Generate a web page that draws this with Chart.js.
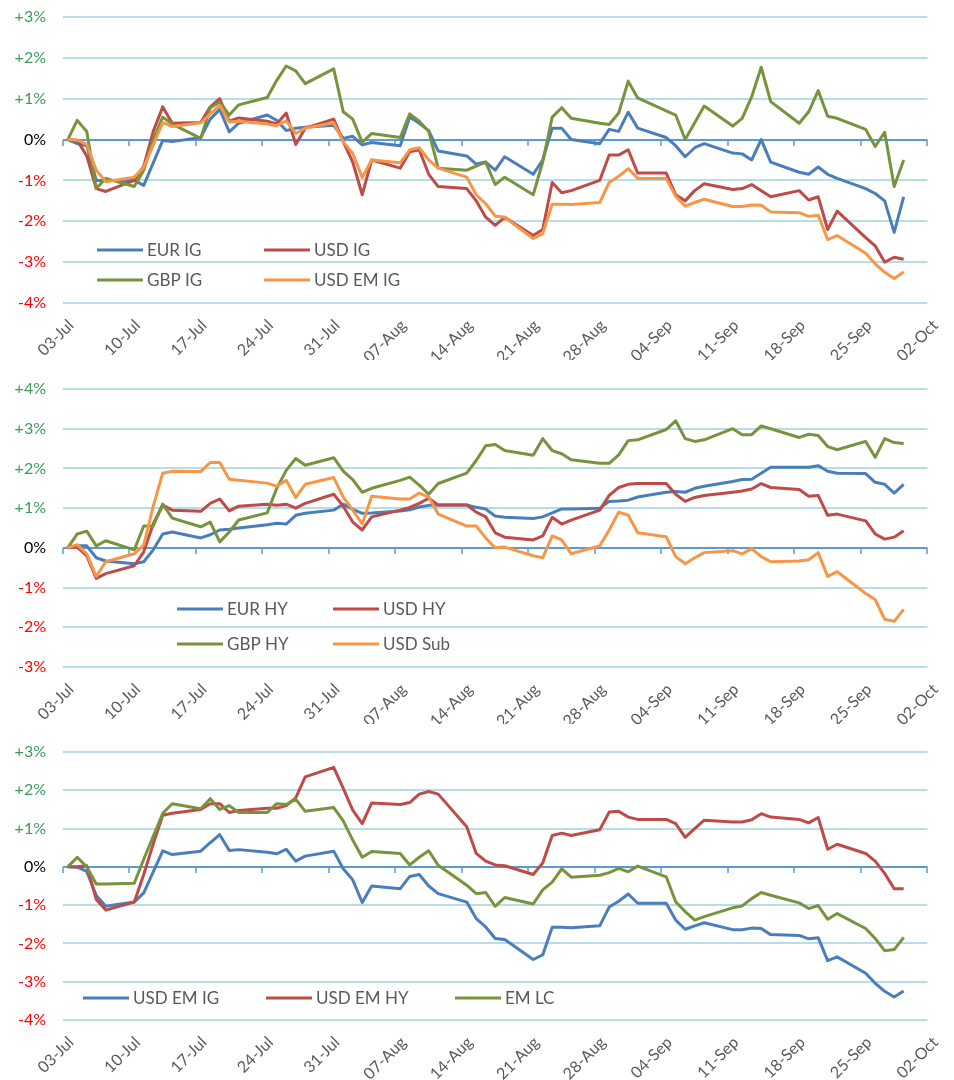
<!DOCTYPE html>
<html>
<head>
<meta charset="utf-8">
<script src="https://cdn.jsdelivr.net/npm/chart.js@4.4.1/dist/chart.umd.min.js"></script>
<style>
    html, body { margin: 0; padding: 0; background: #fff; }
    .panel { position: absolute; left: 0; width: 954px; }
</style>
</head>
<body>
<div class="panel" style="top:0px;height:360px"><canvas id="c1" width="954" height="360"></canvas></div>
<div class="panel" style="top:360px;height:364px"><canvas id="c2" width="954" height="364"></canvas></div>
<div class="panel" style="top:724px;height:356px"><canvas id="c3" width="954" height="356"></canvas></div>

<script>
/* ============================================================
   Performance depuis le 03-Jul (%), jours ouvrés
============================================================ */

// jours depuis le 03-Jul (lun-ven)
const DAYS = [
    0, 1, 2, 3, 4,      7, 8, 9, 10, 11,    14, 15, 16, 17, 18,
    21, 22, 23, 24, 25, 28, 29, 30, 31, 32, 35, 36, 37, 38, 39,
    42, 43, 44, 45, 46, 49, 50, 51, 52, 53, 56, 57, 58, 59, 60,
    63, 64, 65, 66, 67, 70, 71, 72, 73, 74, 77, 78, 79, 80, 81,
    84, 85, 86, 87, 88
];

const TICK_LABELS = [
    "03-Jul", "10-Jul", "17-Jul", "24-Jul", "31-Jul", "07-Aug", "14-Aug",
    "21-Aug", "28-Aug", "04-Sep", "11-Sep", "18-Sep", "25-Sep", "02-Oct"
];

/* --- IG --- */
const EUR_IG = [
    0, -0.1, -0.15, -1.0, -1.0,      -1.0, -1.12, -0.57, -0.02, -0.05,
    0.05, 0.5, 0.74, 0.19, 0.4,      0.6, 0.47, 0.22, 0.28, 0.3,
    0.35, 0.03, 0.08, -0.13, -0.07,  -0.15, 0.55, 0.4, 0.22, -0.28,
    -0.4, -0.6, -0.55, -0.75, -0.42, -0.85, -0.5, 0.28, 0.28, 0.0,
    -0.1, 0.25, 0.2, 0.67, 0.28,     0.05, -0.15, -0.42, -0.2, -0.1,
    -0.33, -0.35, -0.5, 0.0, -0.55,  -0.8, -0.85, -0.67, -0.85, -0.95,
    -1.2, -1.32, -1.5, -2.27, -1.4
];
const USD_IG = [
    0, -0.02, -0.4, -1.2, -1.27,     -1.0, -0.65, 0.2, 0.8, 0.4,
    0.42, 0.8, 1.0, 0.45, 0.53,      0.45, 0.38, 0.65, -0.12, 0.28,
    0.5, -0.05, -0.55, -1.35, -0.5,  -0.7, -0.3, -0.25, -0.85, -1.15,
    -1.2, -1.5, -1.9, -2.1, -1.9,    -2.35, -2.2, -1.05, -1.3, -1.25,
    -1.0, -0.38, -0.38, -0.25, -0.82, -0.82, -1.35, -1.5, -1.25, -1.08,
    -1.22, -1.2, -1.1, -1.25, -1.4,  -1.25, -1.48, -1.4, -2.2, -1.75,
    -2.4, -2.6, -3.0, -2.88, -2.93
];
const GBP_IG = [
    0, 0.47, 0.2, -1.2, -0.95,       -1.15, -0.75, 0.0, 0.55, 0.38,
    0.03, 0.78, 0.92, 0.6, 0.85,     1.03, 1.45, 1.8, 1.68, 1.37,
    1.73, 0.68, 0.5, -0.07, 0.15,    0.05, 0.63, 0.45, 0.2, -0.7,
    -0.75, -0.65, -0.55, -1.1, -0.92, -1.35, -0.55, 0.55, 0.78, 0.52,
    0.4, 0.37, 0.65, 1.43, 1.02,     0.7, 0.6, 0.0, 0.41, 0.82,
    0.33, 0.52, 1.05, 1.77, 0.93,    0.4, 0.68, 1.2, 0.57, 0.52,
    0.25, -0.17, 0.18, -1.15, -0.5
];
const USD_EM_IG = [
    0, -0.01, -0.12, -0.75, -1.03,   -0.92, -0.68, -0.13, 0.42, 0.32,
    0.41, 0.63, 0.84, 0.43, 0.45,    0.38, 0.34, 0.46, 0.15, 0.28,
    0.41, -0.05, -0.34, -0.93, -0.5, -0.57, -0.25, -0.2, -0.5, -0.7,
    -0.92, -1.35, -1.57, -1.87, -1.9, -2.42, -2.3, -1.58, -1.58, -1.59,
    -1.54, -1.05, -0.9, -0.71, -0.95, -0.95, -1.39, -1.63, -1.54, -1.46,
    -1.64, -1.64, -1.6, -1.61, -1.77, -1.79, -1.88, -1.85, -2.45, -2.35,
    -2.78, -3.04, -3.25, -3.4, -3.24
];

/* --- HY --- */
const EUR_HY = [
    0, 0.05, 0.05, -0.25, -0.33,     -0.4, -0.35, -0.05, 0.35, 0.4,
    0.25, 0.33, 0.45, 0.47, 0.5,     0.58, 0.62, 0.6, 0.82, 0.87,
    0.95, 1.1, 0.97, 0.87, 0.88,     0.93, 0.96, 1.03, 1.07, 1.08,
    1.08, 1.02, 0.98, 0.8, 0.77,     0.74, 0.78, 0.88, 0.98, 0.98,
    1.0, 1.17, 1.18, 1.2, 1.28,      1.4, 1.42, 1.4, 1.5, 1.55,
    1.67, 1.72, 1.73, 1.88, 2.03,    2.03, 2.03, 2.07, 1.93, 1.88,
    1.87, 1.65, 1.6, 1.38, 1.6
];
const USD_HY = [
    0, 0.02, -0.2, -0.77, -0.65,     -0.45, -0.1, 0.6, 1.08, 0.95,
    0.92, 1.12, 1.23, 0.93, 1.05,    1.1, 1.07, 1.1, 1.0, 1.12,
    1.35, 1.05, 0.65, 0.45, 0.78,    0.95, 1.02, 1.12, 1.25, 1.08,
    1.08, 0.9, 0.78, 0.38, 0.27,     0.2, 0.3, 0.77, 0.6, 0.7,
    0.95, 1.32, 1.52, 1.6, 1.62,     1.62, 1.35, 1.17, 1.27, 1.32,
    1.4, 1.43, 1.48, 1.62, 1.52,     1.47, 1.3, 1.32, 0.82, 0.85,
    0.68, 0.35, 0.22, 0.27, 0.43
];
const GBP_HY = [
    0, 0.35, 0.42, 0.05, 0.18,       -0.05, 0.55, 0.55, 1.1, 0.75,
    0.53, 0.65, 0.15, 0.4, 0.7,      0.88, 1.5, 1.95, 2.25, 2.08,
    2.27, 1.93, 1.72, 1.4, 1.5,      1.7, 1.78, 1.58, 1.35, 1.62,
    1.88, 2.2, 2.57, 2.6, 2.45,      2.33, 2.75, 2.45, 2.37, 2.22,
    2.13, 2.13, 2.34, 2.7, 2.72,     2.98, 3.2, 2.75, 2.68, 2.72,
    3.0, 2.85, 2.85, 3.07, 3.0,      2.78, 2.86, 2.83, 2.55, 2.47,
    2.68, 2.28, 2.75, 2.65, 2.63
];
const USD_SUB = [
    0, 0.08, -0.15, -0.72, -0.35,    -0.15, 0.07, 1.05, 1.88, 1.93,
    1.92, 2.15, 2.15, 1.73, 1.7,     1.63, 1.55, 1.7, 1.27, 1.6,
    1.77, 1.28, 0.95, 0.6, 1.3,      1.23, 1.23, 1.38, 1.28, 0.85,
    0.55, 0.55, 0.25, 0.0, 0.02,     -0.2, -0.25, 0.3, 0.2, -0.15,
    0.05, 0.45, 0.9, 0.82, 0.38,     0.28, -0.22, -0.4, -0.25, -0.12,
    -0.07, -0.15, -0.02, -0.22, -0.35, -0.33, -0.3, -0.12, -0.72, -0.6,
    -1.15, -1.3, -1.8, -1.85, -1.55
];

/* --- EM --- */
const USD_EM_HY = [
    0, 0, 0.03, -0.85, -1.13,        -0.92, -0.2, 0.6, 1.35, 1.4,
    1.5, 1.65, 1.65, 1.42, 1.47,     1.53, 1.53, 1.6, 1.8, 2.35,
    2.6, 2.05, 1.48, 1.13, 1.67,     1.63, 1.68, 1.9, 1.97, 1.9,
    1.05, 0.35, 0.15, 0.05, 0.03,    -0.2, 0.1, 0.82, 0.88, 0.82,
    0.97, 1.43, 1.45, 1.3, 1.24,     1.24, 1.13, 0.77, 1.0, 1.22,
    1.17, 1.17, 1.23, 1.39, 1.3,     1.24, 1.15, 1.29, 0.46, 0.59,
    0.35, 0.15, -0.17, -0.57, -0.57
];
const EM_LC = [
    0, 0.25, 0.0, -0.45, -0.45,      -0.43, 0.2, 0.8, 1.4, 1.65,
    1.52, 1.78, 1.5, 1.6, 1.42,      1.42, 1.65, 1.63, 1.77, 1.45,
    1.55, 1.2, 0.7, 0.25, 0.4,       0.35, 0.05, 0.25, 0.42, 0.04,
    -0.48, -0.7, -0.67, -1.03, -0.8, -0.97, -0.6, -0.4, -0.05, -0.27,
    -0.22, -0.15, -0.04, -0.13, 0.02, -0.26, -0.91, -1.17, -1.39, -1.3,
    -1.07, -1.02, -0.83, -0.67, -0.74, -0.94, -1.09, -1.01, -1.37, -1.22,
    -1.61, -1.87, -2.19, -2.16, -1.84
];

/* couleurs */
const BLUE = "#4A7EBB";
const RED = "#BE4B48";
const GREEN = "#77933C";
const ORANGE = "#F79646";
const GRID = "#B7DEE8";
const ZERO = "#5B9BD5";
const POS_TXT = "#3D9A5C";
const NEG_TXT = "#FF0000";
const TXT = "#595959";
const FONT = "Lato";

Chart.defaults.font.family = FONT;

/* axe zéro + petites graduations */
const zeroAxis = {
    id: "zeroAxis",
    beforeDatasetsDraw(chart) {
        const { ctx, chartArea, scales } = chart;
        const y0 = Math.round(scales.y.getPixelForValue(0));
        ctx.save();
        ctx.strokeStyle = ZERO;
        ctx.lineWidth = 2;
        ctx.beginPath();
        ctx.moveTo(chartArea.left, y0);
        ctx.lineTo(chartArea.right, y0);
        ctx.stroke();
        ctx.lineWidth = 1.5;
        ctx.beginPath();
        for (const t of scales.x.ticks) {
            const px = Math.round(scales.x.getPixelForValue(t.value));
            ctx.moveTo(px, y0);
            ctx.lineTo(px, y0 + 6);
        }
        ctx.stroke();
        ctx.restore();
    }
};

/* légende dans la zone du graphique */
const insideLegend = {
    id: "insideLegend",
    afterDatasetsDraw(chart, args, opts) {
        const ctx = chart.ctx;
        ctx.save();
        ctx.font = "17px " + FONT;
        ctx.textBaseline = "middle";
        chart.data.datasets.forEach((ds, i) => {
            const [x, y] = opts.at[i];
            ctx.strokeStyle = ds.borderColor;
            ctx.lineWidth = 3;
            ctx.beginPath();
            ctx.moveTo(x, y);
            ctx.lineTo(x + 46, y);
            ctx.stroke();
            ctx.fillStyle = TXT;
            ctx.fillText(ds.label, x + 50, y + 1);
        });
        ctx.restore();
    }
};

function makePanel(id, series, labels, colors, yMin, yMax, padTop, xHeight, legendAt) {
    const n = series.length;
    const datasets = series.map((s, i) => ({
        label: labels[i],
        data: DAYS.map((d, k) => ({ x: d, y: s[k] })),
        borderColor: colors[i],
        backgroundColor: colors[i],
        borderWidth: 3,
        pointRadius: 0,
        tension: 0,
        borderJoinStyle: "round",
        order: n - i
    }));

    return new Chart(document.getElementById(id), {
        type: "line",
        data: { datasets },
        plugins: [zeroAxis, insideLegend],
        options: {
            responsive: false,
            animation: false,
            devicePixelRatio: 1,
            layout: { padding: { top: padTop, right: 10, left: 0, bottom: 0 } },
            plugins: {
                legend: { display: false },
                tooltip: { enabled: false },
                insideLegend: { at: legendAt }
            },
            scales: {
                x: {
                    type: "linear",
                    min: -0.5,
                    max: 90.5,
                    afterBuildTicks: s => {
                        s.ticks = TICK_LABELS.map((_, i) => ({ value: i * 7 - 0.5 }));
                    },
                    afterFit: s => { s.height = xHeight; },
                    ticks: {
                        autoSkip: false,
                        minRotation: 45,
                        maxRotation: 45,
                        labelOffset: 8,
                        padding: 13,
                        color: TXT,
                        font: { family: FONT, size: 16 },
                        callback: (v, i) => TICK_LABELS[i]
                    },
                    grid: { display: false, drawTicks: false },
                    border: { display: false }
                },
                y: {
                    min: yMin,
                    max: yMax,
                    afterFit: s => {
                        s.width = 63;
                        s.paddingTop = 8;
                        s.paddingBottom = 8;
                    },
                    ticks: {
                        stepSize: 1,
                        padding: 17,
                        font: { family: FONT, size: 16 },
                        color: c => c.tick.value > 0 ? POS_TXT : (c.tick.value < 0 ? NEG_TXT : "#000"),
                        callback: v => (v > 0 ? "+" : "") + v + "%"
                    },
                    grid: { drawTicks: false, color: GRID, lineWidth: 2 },
                    border: { display: false }
                }
            }
        }
    });
}

makePanel("c1",
    [EUR_IG, USD_IG, GBP_IG, USD_EM_IG],
    ["EUR IG", "USD IG", "GBP IG", "USD EM IG"],
    [BLUE, RED, GREEN, ORANGE],
    -4, 3, 17, 57,
    [[97, 250], [264, 250], [97, 280], [264, 280]]);

makePanel("c2",
    [EUR_HY, USD_HY, GBP_HY, USD_SUB],
    ["EUR HY", "USD HY", "GBP HY", "USD Sub"],
    [BLUE, RED, GREEN, ORANGE],
    -3, 4, 29, 57,
    [[177, 249], [333, 249], [177, 284], [333, 284]]);

makePanel("c3",
    [USD_EM_IG, USD_EM_HY, EM_LC],
    ["USD EM IG", "USD EM HY", "EM LC"],
    [BLUE, RED, GREEN],
    -4, 3, 28, 60,
    [[83, 274], [266, 274], [455, 274]]);
</script>
</body>
</html>
